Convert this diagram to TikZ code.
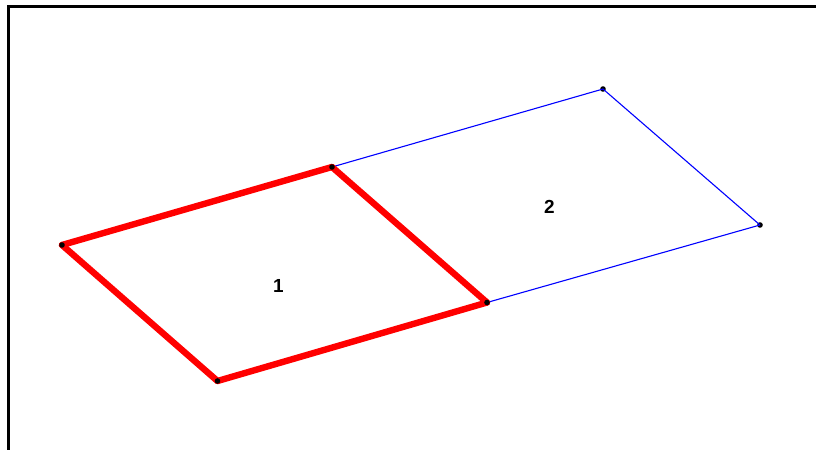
\documentclass[tikz,border=0pt]{standalone}
\usepackage{fontspec}
\setmainfont{Liberation Sans}
\tikzset{
  pin/.style={circle,fill=black,draw=none,inner sep=0pt,minimum size=5.6bp},
  thickedge/.style={draw=red,line width=6.4bp,line cap=round},
  thinedge/.style={draw=blue,line width=1.1bp},
  framebar/.style={draw=black,line width=3.4bp},
  lab/.style={font=\bfseries\fontsize{19}{19}\selectfont,inner sep=0pt}
}
\begin{document}
\begin{tikzpicture}[x=1bp,y=-1bp]
\useasboundingbox (0,0) rectangle (816,450);
\fill[white] (0,0) rectangle (816,450);
\coordinate (fa) at (8.5,450);
\coordinate (fb) at (8.5,6.5);
\coordinate (fc) at (816,6.5);
\draw[framebar] (fa) -- (fb) -- (fc);
\node[pin] (a) at (62,245) {};
\node[pin] (b) at (332,167) {};
\node[pin] (c) at (487,302.5) {};
\node[pin] (d) at (217.5,381) {};
\node[pin] (e) at (603,89) {};
\node[pin] (f) at (760,225) {};
\draw[thinedge] (b.center) -- (e.center);
\draw[thinedge] (e.center) -- (f.center);
\draw[thinedge] (f.center) -- (c.center);
\draw[thickedge] (a.center) -- (b.center);
\draw[thickedge] (b.center) -- (c.center);
\draw[thickedge] (c.center) -- (d.center);
\draw[thickedge] (d.center) -- (a.center);
\node[pin] at (a) {};
\node[pin] at (b) {};
\node[pin] at (c) {};
\node[pin] at (d) {};
\node[lab] (n1) at (278.5,286) {1};
\node[lab] (n2) at (549.5,206.5) {2};
\end{tikzpicture}
\end{document}
